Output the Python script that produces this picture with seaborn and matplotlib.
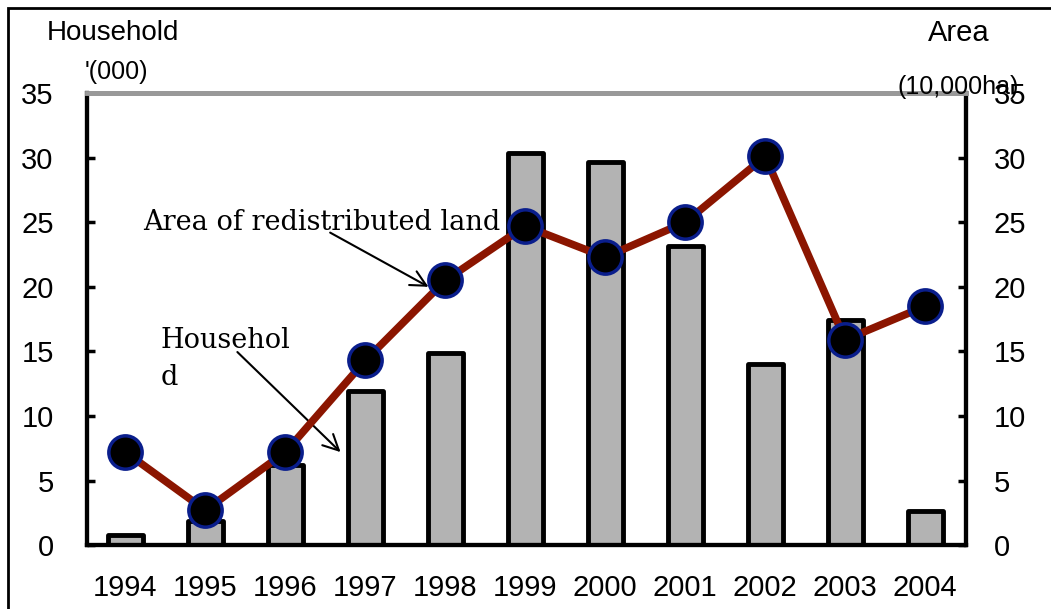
import numpy as np
import pandas as pd
import matplotlib
matplotlib.use("Agg")
import matplotlib.pyplot as plt
import seaborn as sns

# data
years = ["1994", "1995", "1996", "1997", "1998", "1999", "2000", "2001", "2002", "2003", "2004"]
households = [0.8, 1.9, 6.2, 11.9, 14.9, 30.4, 29.7, 23.2, 14.0, 17.4, 2.6]
area = [7.2, 2.7, 7.2, 14.3, 20.5, 24.7, 22.3, 25.0, 30.1, 15.9, 18.5]
yticks = [0, 5, 10, 15, 20, 25, 30, 35]

sns.set_style("white")
plt.rcParams["font.family"] = ["Liberation Sans", "DejaVu Sans"]
plt.rcParams["text.color"] = "black"
plt.rcParams["xtick.color"] = "black"
plt.rcParams["ytick.color"] = "black"

fig = plt.figure(figsize=(10.51, 6.09), dpi=100)
ax = fig.add_axes([0.0828, 0.105, 0.8363, 0.742])

df = pd.DataFrame({"year": years, "households": households, "area": area})

sns.barplot(data=df, x="year", y="households", ax=ax, color="#b3b3b3",
            width=0.44, edgecolor="black", linewidth=3.5, saturation=1)
for p in ax.patches:
    p.set_joinstyle("round")

ax2 = ax.twinx()
sns.lineplot(x=np.arange(len(years)), y=area, ax=ax2, color="#8b1500", lw=5.5,
             marker="o", markersize=24, markerfacecolor="black",
             markeredgecolor="#0a1e8c", markeredgewidth=2.5, zorder=5)

for a in (ax, ax2):
    a.set_ylim(0, 35)
    a.set_xlim(-0.48, len(years) - 0.49)
    a.set_yticks(yticks)
    a.set_xlabel("")
    a.set_ylabel("")

ax.set_xticks(range(len(years)))
ax.set_xticklabels(years)
ax.set_xticks(np.arange(0.5, len(years) - 1, 1), minor=True)
ax.tick_params(axis="x", which="major", length=0, pad=21, labelsize=21)
ax.tick_params(axis="x", which="minor", direction="in", length=6, width=2.5, color="black")
ax.tick_params(axis="y", direction="in", length=6, width=2.5, pad=24, labelsize=21, left=True)
ax2.tick_params(axis="y", direction="in", length=6, width=2.5, pad=20, labelsize=21, right=True)

for a in (ax, ax2):
    a.spines["left"].set_linewidth(3)
    a.spines["right"].set_linewidth(3)
    a.spines["bottom"].set_linewidth(3)
    a.spines["top"].set_linewidth(3.5)
    a.spines["top"].set_color("#999999")
    for s in ("left", "right", "bottom"):
        a.spines[s].set_color("black")

# axis titles
fig.text(0.107, 0.945, "Household", fontsize=20, ha="center", va="center")
fig.text(0.111, 0.882, "'(000)", fontsize=18, ha="center", va="center")
fig.text(0.912, 0.945, "Area", fontsize=21, ha="center", va="center")
fig.text(0.912, 0.857, "(10,000ha)", fontsize=18, ha="center", va="center")

# annotations: text and arrows drawn separately
ann_font = dict(family="DejaVu Serif", fontsize=19.5)
arrow = dict(arrowstyle="->", color="black", lw=1.5, shrinkA=0, shrinkB=0,
             mutation_scale=28)
ax.text(0.22, 25.0, "Area of redistributed land", ha="left", va="center", **ann_font)
ax.annotate("", xy=(3.79, 20.0), xytext=(2.56, 24.2), arrowprops=arrow)
ax.text(0.44, 14.4, "Househol\nd", ha="left", va="center", linespacing=1.5, **ann_font)
ax.annotate("", xy=(2.69, 7.2), xytext=(1.4, 14.95), arrowprops=arrow)

# outer frame
fig.add_artist(plt.Rectangle((0.0076, -0.1), 1.2, 1.087, transform=fig.transFigure,
                             fill=False, edgecolor="black", lw=2))

fig.savefig("out.png", dpi=100)
